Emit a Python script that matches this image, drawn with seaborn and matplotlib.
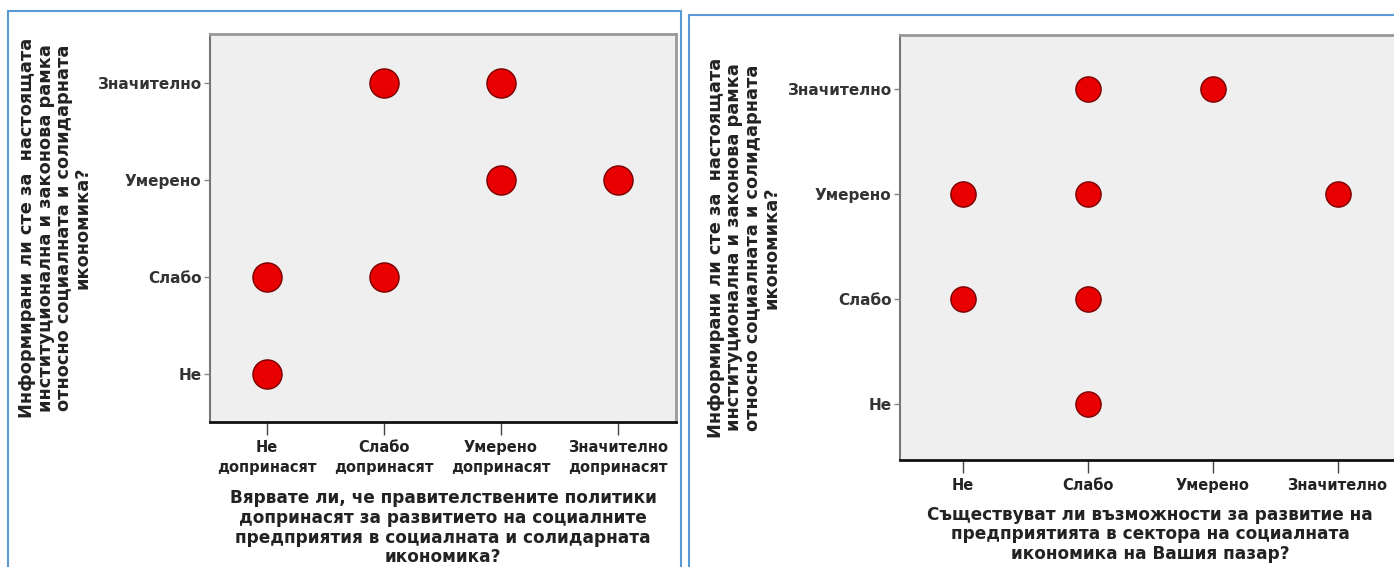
import matplotlib
matplotlib.use("Agg")
import matplotlib.pyplot as plt
from matplotlib.patches import Rectangle
import seaborn as sns

# Levels (y axis is the same question on both charts)
y_levels = ["Не", "Слабо", "Умерено", "Значително"]
left_x_levels = ["Не\nдопринасят", "Слабо\nдопринасят", "Умерено\nдопринасят", "Значително\nдопринасят"]
right_x_levels = ["Не", "Слабо", "Умерено", "Значително"]

# Observed combinations (x level index, y level index)
left_x = [1, 2, 2, 3, 0, 1, 0]
left_y = [3, 3, 2, 2, 1, 1, 0]
right_x = [1, 2, 0, 1, 3, 0, 1, 1]
right_y = [3, 3, 2, 2, 2, 1, 1, 0]

y_title = ("Информирани ли сте за  настоящата\nинституционална и законова рамка\n"
           "относно социалната и солидарната\nикономика?")
left_x_title = ("Вярвате ли, че правителствените политики\nдопринасят за развитието на социалните\n"
                "предприятия в социалната и солидарната\nикономика?")
right_x_title = ("Съществуват ли възможности за развитие на\nпредприятията в сектора на социалната\n"
                 "икономика на Вашия пазар?")

sns.set_style("white")
plt.rcParams["font.family"] = ["DejaVu Sans"]

W, H = 1394, 567
fig = plt.figure(figsize=(W / 100, H / 100), dpi=100)


def px_axes(left, top, right, bottom):
    return fig.add_axes([left / W, 1 - bottom / H, (right - left) / W, (bottom - top) / H])


def style(ax, xlabels, xtitle, ylim, xlim, ylab_x, xlab_pad):
    ax.set_facecolor("#efefef")
    ax.set_xlim(*xlim)
    ax.set_ylim(*ylim)
    ax.set_xticks(range(4))
    ax.set_xticklabels(xlabels, fontsize=10.5, fontweight="bold", color="#222222", linespacing=1.45)
    ax.set_yticks(range(4))
    ax.set_yticklabels(y_levels, fontsize=11, fontweight="bold", color="#333333")
    ax.tick_params(axis="x", length=9, width=1, color="#444444", pad=4, bottom=True)
    ax.tick_params(axis="y", length=4, width=1, color="#888888", pad=2, left=True)
    ax.spines["bottom"].set_color("#111111")
    ax.spines["bottom"].set_linewidth(2)
    ax.spines["left"].set_color("#777777")
    ax.spines["left"].set_linewidth(1.5)
    ax.spines["top"].set_color("#999999")
    ax.spines["top"].set_linewidth(2)
    ax.spines["right"].set_color("#999999")
    ax.spines["right"].set_linewidth(2)
    ax.set_xlabel(xtitle, fontsize=12.2, fontweight="bold", color="#222222", linespacing=1.12,
                  labelpad=xlab_pad)
    ax.set_ylabel(y_title, fontsize=12.8, fontweight="bold", color="#222222", linespacing=1.02)
    ax.yaxis.set_label_coords(ylab_x, 0.5)


# Left chart
ax1 = px_axes(210, 34, 676, 422)
sns.scatterplot(x=left_x, y=left_y, ax=ax1, s=440, color="#e80000",
                edgecolor="#7a0000", linewidth=1, zorder=3)
style(ax1, left_x_levels, left_x_title, (-0.49, 3.51), (-0.49, 3.5), -0.255, 10)

# Right chart (cut off at the figure's right edge)
ax2 = px_axes(900, 35, 1400, 460)
sns.scatterplot(x=right_x, y=right_y, ax=ax2, s=330, color="#e80000",
                edgecolor="#7a0000", linewidth=1, zorder=3)
style(ax2, right_x_levels, right_x_title, (-0.53, 3.51), (-0.5, 3.5), -0.24, 9)

# Blue frames around the two panels
fig.patches.append(Rectangle((8 / W, -0.1), 673 / W, 1.1 - 11 / H, transform=fig.transFigure,
                             fill=False, edgecolor="#5b9bd5", linewidth=1.5))
fig.patches.append(Rectangle((689 / W, -0.1), 0.6, 1.1 - 15 / H, transform=fig.transFigure,
                             fill=False, edgecolor="#5b9bd5", linewidth=1.5))

fig.savefig("out.png", dpi=100)
